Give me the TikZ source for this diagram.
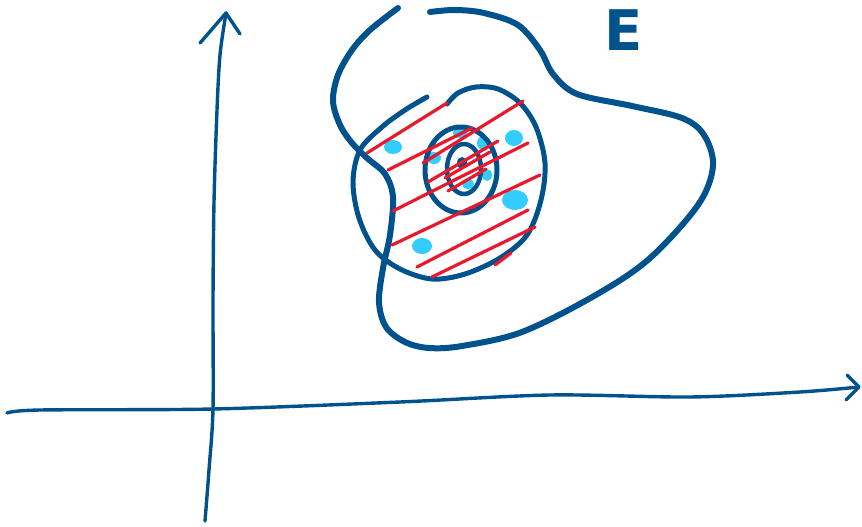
\documentclass[tikz,border=0pt]{standalone}
\usepackage{fontspec}
\setmainfont{DejaVu Sans}
\definecolor{inkblue}{RGB}{0,82,140}
\definecolor{inkred}{RGB}{232,25,44}
\definecolor{spotblue}{RGB}{51,204,255}
\begin{document}
\begin{tikzpicture}[x=1pt,y=-1pt,line cap=round,line join=round,
  axis/.style={inkblue,line width=3.4pt},
  contour/.style={inkblue,line width=5pt},
  hatch/.style={inkred,line width=3.2pt},
  spot/.style={fill=spotblue}]
  \useasboundingbox (0,0) rectangle (862,527);
  % axes
  \coordinate (o) at (213,409);
  \coordinate (ytip) at (226,13);
  \coordinate (xtip) at (859,387);
  \draw[axis] plot[smooth] coordinates {(205,521) (209,470) (o) (213,300) (214,202) (217,110) (220,55) (ytip)};
  \draw[axis] (200,43) -- (ytip) -- (240,34);
  \draw[axis] plot[smooth] coordinates {(7,413) (40,410) (o) (400,402) (550,395) (690,397) (800,392) (xtip)};
  \draw[axis] (847,375) -- (xtip) -- (846,400);
  % light blue spots
  \foreach \x/\y/\a/\b in {393/147/9/7,514/138/9/8,515/200/13/10,422/246/10/8,
                           460/133/7/5,483/143/6/7,434/158/7/6,487/175/5/6,468/184/6/5} {
    \fill[spot] (\x,\y) ellipse [x radius=\a, y radius=\b];
  }
  \fill[inkblue] (462,163) ellipse [x radius=5, y radius=6];
  % set E
  \draw[contour,line width=6pt] plot[smooth,tension=0.55] coordinates {
    (398,8) (370,30) (352,50) (338,75) (333,101) (340,125) (352,143) (367,158) (385,174)
    (393,197) (390,235) (383,268) (379,302) (386,327) (405,342) (429,348) (462,346)
    (522,332) (594,296) (649,259) (698,205) (713,166) (704,135) (682,118) (632,106)
    (577,94) (553,74) (540,50) (518,25) (484,13) (455,10) (430,12)};
  \node[inkblue,inner sep=0pt] (lblE) at (624,30) {\fontsize{56}{56}\selectfont\bfseries E};
  % neighbourhoods
  \draw[contour] plot[smooth,tension=0.55] coordinates {
    (447,104) (458,93) (476,87) (498,89) (520,103) (536,127) (545,163) (541,200)
    (527,235) (500,258) (465,274) (432,279) (400,269) (375,250) (359,218) (353,182)
    (360,150) (382,127) (405,110) (427,97)};
  \draw[contour] (461,170) ellipse [x radius=36, y radius=43];
  \draw[contour,line width=4.5pt] (464,169) ellipse [x radius=17, y radius=25];
  % hatching
  \foreach \a/\b/\c/\d in {367/153/447/103, 388/170/472/128, 423/163/523/101,
                           428/182/498/141, 445/178/490/152, 448/191/486/169,
                           393/211/528/143, 392/245/540/175, 417/267/528/210,
                           432/277/535/227, 495/265/511/253} {
    \draw[hatch] (\a,\b) -- (\c,\d);
  }
\end{tikzpicture}
\end{document}
